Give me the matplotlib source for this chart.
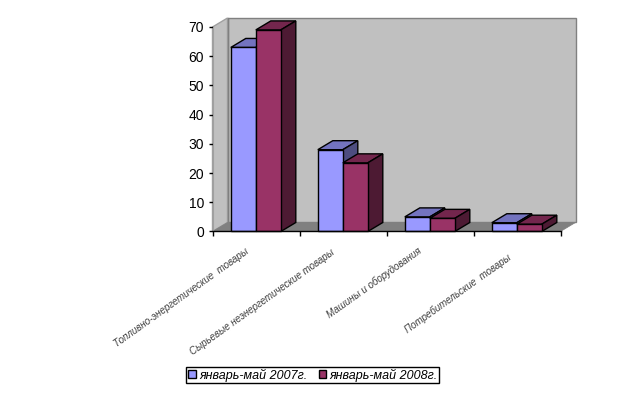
import matplotlib
matplotlib.use("Agg")
import matplotlib.pyplot as plt
from matplotlib.patches import Patch, Rectangle

categories = ["Топливно-энергетические  товары", "Сырьевые неэнергетические товары",
              "Машины и оборудования", "Потребительские  товары"]
series_names = ["январь-май 2007г.", "январь-май 2008г."]
values_2007 = [63, 28, 5, 3]
values_2008 = [69, 23.5, 4.5, 2.5]
yticks = [0, 10, 20, 30, 40, 50, 60, 70]

W, H = 625, 393
fig = plt.figure(figsize=(W / 100, H / 100), dpi=100, facecolor="white")
L, R, B, T = 212.5, 560.5, 231.5, 27
ax = fig.add_axes([L / W, 1 - B / H, (R - L) / W, (B - T) / H])
ax.set_xlim(0, 4)
ax.set_ylim(0, 70)
ax.patch.set_visible(False)

DX = 15 * 4 / (R - L)          # depth in category units
DY = 9 * 70 / (B - T)          # depth in value units
BW = 25 * 4 / (R - L)          # bar width in category units
PAD = 18.3 * 4 / (R - L)

# walls and floor
wall = "#C0C0C0"
ax.fill([DX, 4 + DX, 4 + DX, DX], [DY, DY, 70 + DY, 70 + DY], fc=wall, ec="#808080", lw=1, clip_on=False, zorder=1)
ax.fill([0, DX, DX, 0], [0, DY, 70 + DY, 70], fc=wall, ec="#A0A0A0", lw=1, clip_on=False, zorder=1)
ax.plot([DX, DX], [DY, 70 + DY], color="#808080", lw=1, clip_on=False, zorder=1.5)
ax.fill([0, 4, 4 + DX, DX], [0, 0, DY, DY], fc="#808080", ec="#808080", lw=0.5, clip_on=False, zorder=1.2)

colors = [("#9999FF", "#7373BF", "#4D4D80"), ("#993366", "#73264D", "#4D1A33")]


def draw_bar(x, v, palette, z):
    front, top, side = palette
    ax.fill([x, x + DX, x + BW + DX, x + BW], [v, v + DY, v + DY, v], fc=top, ec="black", lw=1, clip_on=False, zorder=z)
    ax.fill([x + BW, x + BW + DX, x + BW + DX, x + BW], [0, DY, v + DY, v], fc=side, ec="black", lw=1, clip_on=False, zorder=z)
    ax.bar(x, v, width=BW, align="edge", color=front, edgecolor="black", linewidth=1, clip_on=False, zorder=z + 0.1)


for i in range(len(categories)):
    draw_bar(i + PAD, values_2007[i], colors[0], 3 + i)
    draw_bar(i + PAD + BW, values_2008[i], colors[1], 3.5 + i)

for s in ("top", "right"):
    ax.spines[s].set_visible(False)
ax.spines["left"].set_color("#A0A0A0")
ax.spines["bottom"].set_color("black")
ax.spines["bottom"].set_linewidth(1)
ax.spines["bottom"].set_zorder(20)

ax.set_yticks(yticks)
ax.tick_params(axis="y", length=3, width=1, color="black", pad=3, labelsize=10, labelcolor="black")
for t in ax.get_yticklabels():
    t.set_fontfamily("Liberation Sans")

ax.set_xticks(range(5))
ax.set_xticklabels([])
ax.tick_params(axis="x", length=3.6, width=1, color="black")

label_ends = [(245, 246.5), (330, 247), (417, 245), (507, 252)]
for name, (ex, ey) in zip(categories, label_ends):
    fig.text(ex / W, 1 - ey / H, name, rotation=35.5, rotation_mode="anchor", ha="right", va="top",
             fontsize=7, style="italic", family="Liberation Sans", color="#404040")

fig.add_artist(Rectangle((185.5 / W, 1 - 383 / H), 253.5 / W, 16 / H, transform=fig.transFigure,
                         fc="white", ec="black", lw=1, zorder=5))
handles = [Patch(fc=colors[0][0], ec="black", lw=1), Patch(fc=colors[1][0], ec="black", lw=1)]
fig.legend(handles, series_names, loc="center", bbox_to_anchor=(313 / W, 1 - 375 / H), ncol=2,
           frameon=False, prop={"family": "Liberation Sans", "style": "italic", "size": 9},
           handlelength=0.6, handleheight=0.6, handletextpad=0.27, columnspacing=0.88,
           borderpad=0, borderaxespad=0).set_zorder(6)

fig.savefig("out.png", dpi=100)
